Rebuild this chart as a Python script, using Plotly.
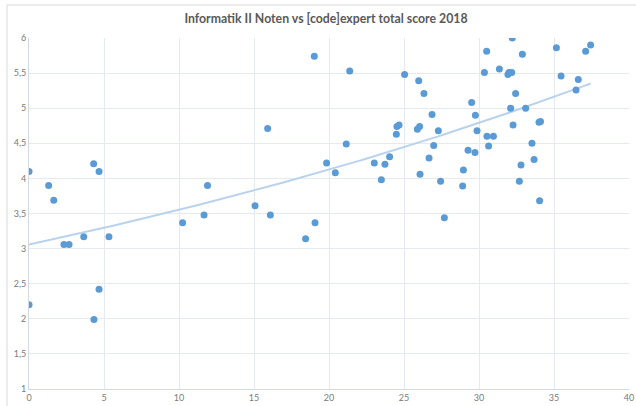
import numpy as np
import plotly.graph_objects as go

title_text = "Informatik II Noten vs [code]expert total score 2018"

score = [0, 1.31, 1.65, 4.31, 4.67, 11.9, 0, 2.33, 2.67, 3.65, 5.33, 4.67, 4.33, 10.24, 11.67,
         19.02, 21.38, 25.04, 25.98, 15.91, 21.15, 24.53, 24.67, 24.49, 25.89, 26.04, 24.04,
         23.02, 23.73, 19.84, 20.42, 23.49, 26.07, 15.07, 16.09, 19.07, 18.44,
         32.22, 30.51, 32.89, 35.16, 37.44, 37.11, 30.36, 31.36, 31.93, 32.0, 32.18, 35.47,
         36.62, 36.47, 26.33, 32.44, 29.51, 32.11, 33.11, 26.87, 29.76, 27.29, 32.27, 34.0,
         34.1, 29.87, 30.53, 30.96, 26.98, 30.64, 33.53, 26.67, 29.27, 29.73, 33.67, 27.44,
         28.96, 28.91, 32.8, 32.69, 34.04, 27.69]
grade = [4.10, 3.90, 3.69, 4.21, 4.10, 3.90, 2.20, 3.06, 3.06, 3.17, 3.17, 2.42, 1.99, 3.37, 3.48,
         5.74, 5.53, 5.48, 5.39, 4.71, 4.49, 4.74, 4.76, 4.63, 4.70, 4.74, 4.31,
         4.22, 4.20, 4.22, 4.08, 3.98, 4.06, 3.61, 3.48, 3.37, 3.14,
         6.00, 5.81, 5.77, 5.86, 5.90, 5.81, 5.51, 5.56, 5.48, 5.51, 5.51, 5.46,
         5.41, 5.26, 5.21, 5.21, 5.08, 5.00, 5.00, 4.91, 4.90, 4.68, 4.76, 4.80,
         4.81, 4.68, 4.60, 4.60, 4.47, 4.46, 4.50, 4.29, 4.40, 4.37, 4.27, 3.96,
         4.12, 3.89, 4.19, 3.96, 3.68, 3.44]

x_ticks = [0, 5, 10, 15, 20, 25, 30, 35, 40]
y_ticks = [1, 1.5, 2, 2.5, 3, 3.5, 4, 4.5, 5, 5.5, 6]

# exponential trendline (least squares on ln y), like a spreadsheet trendline
xs = np.array(score)
ys = np.array(grade)
b, ln_a = np.polyfit(xs, np.log(ys), 1)
tx = np.linspace(xs.min(), xs.max(), 100)
ty = np.exp(ln_a) * np.exp(b * tx)

fig = go.Figure()
fig.add_trace(go.Scatter(x=tx, y=ty, mode="lines",
                         line=dict(color="#b9d3ec", width=2), hoverinfo="skip",
                         showlegend=False))
fig.add_trace(go.Scatter(x=score, y=grade, mode="markers",
                         marker=dict(color="#5b9bd5", size=7, line=dict(width=0)),
                         showlegend=False))

W, H = 636, 406
grid = "#e6e9ef"
axis_font = dict(family="Lato, 'Open Sans', sans-serif", size=9, color="#7a7a7a")
fig.update_layout(
    width=W, height=H,
    margin=dict(l=29, r=7, t=38, b=17, autoexpand=False),
    paper_bgcolor="white", plot_bgcolor="white",
    separators=",.",
    title=dict(text="<b>" + title_text + "</b>", x=(326 - 29) / 600, xanchor="center",
               xref="paper", yref="container",
               y=1 - 19 / H, yanchor="middle", automargin=False,
               font=dict(family="Lato, 'Open Sans', sans-serif", size=12.3, color="#595959")),
    xaxis=dict(range=[0, 40], tickvals=x_ticks, showgrid=True, gridcolor=grid, gridwidth=1,
               zeroline=False, showline=True, linecolor="#d3d9e2", linewidth=1,
               ticks="", tickfont=axis_font, automargin=False),
    yaxis=dict(range=[1, 6], tickvals=y_ticks, showgrid=True, gridcolor=grid, gridwidth=1,
               zeroline=False, showline=True, linecolor="#d3d9e2", linewidth=1,
               ticks="", tickfont=axis_font, automargin=False),
    shapes=[dict(type="rect", xref="paper", yref="paper",
                 x0=-22 / 600, x1=1.1, y0=-0.2, y1=(389 - 5) / 351,
                 line=dict(color="#d9d9d9", width=1), layer="above")],
)

# remove the browser's default body margin so the figure fills the window exactly
fig.write_html("out.html",
               config={"displayModeBar": False},
               post_script="document.body.style.margin='0';document.body.style.overflow='hidden';")
